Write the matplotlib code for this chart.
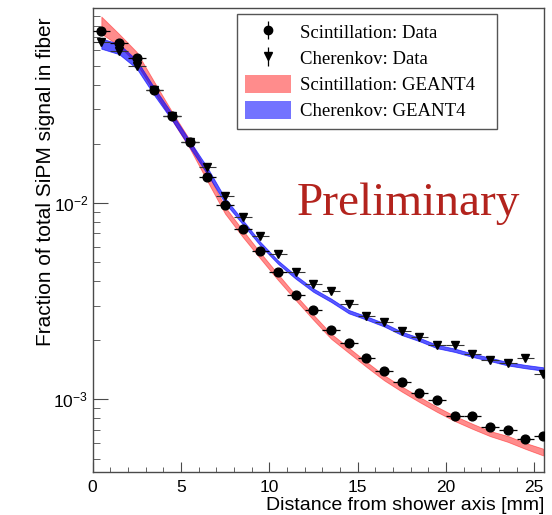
import numpy as np
import matplotlib
matplotlib.use("Agg")
import matplotlib.pyplot as plt
from matplotlib.patches import Patch
from matplotlib.ticker import MultipleLocator, LogLocator, NullFormatter

plt.rcParams["font.family"] = ["Liberation Sans", "DejaVu Sans"]
plt.rcParams["mathtext.fontset"] = "custom"
plt.rcParams["mathtext.rm"] = "Liberation Sans"
plt.rcParams["mathtext.it"] = "Liberation Sans:italic"
plt.rcParams["mathtext.bf"] = "Liberation Sans:bold"

# ------------------------------------------------------------
# Data
# ------------------------------------------------------------
DISTANCE = [0.5, 1.5, 2.5, 3.5, 4.5, 5.5, 6.5, 7.5, 8.5, 9.5, 10.5, 11.5, 12.5,
            13.5, 14.5, 15.5, 16.5, 17.5, 18.5, 19.5, 20.5, 21.5, 22.5, 23.5,
            24.5, 25.5]

SCINT_DATA = [0.0748, 0.0653, 0.0547, 0.0377, 0.0279, 0.0205, 0.0135, 0.0098,
              0.00734, 0.00571, 0.00446, 0.00342, 0.00287, 0.00227, 0.00193,
              0.00162, 0.00140, 0.00123, 0.00108, 0.00099, 0.00082, 0.00082,
              0.00072, 0.00070, 0.00063, 0.00065]

CHER_DATA = [0.066, 0.0592, 0.050, 0.0377, 0.0279, 0.0205, 0.0153, 0.0109,
             0.0085, 0.0068, 0.0055, 0.00444, 0.00387, 0.00358, 0.00305,
             0.00267, 0.00248, 0.00223, 0.00207, 0.00189, 0.00189, 0.00170,
             0.00159, 0.00154, 0.00162, 0.00134]

SCINT_G4 = [0.081, 0.068, 0.055, 0.039, 0.0278, 0.0200, 0.0136, 0.0092,
            0.0070, 0.0054, 0.0042, 0.0033, 0.00262, 0.00210, 0.00178,
            0.00151, 0.00129, 0.00113, 0.00100, 0.00089, 0.00080, 0.00073,
            0.00067, 0.00063, 0.00058, 0.00054]
SCINT_G4_REL = [0.10, 0.07, 0.07, 0.06, 0.05, 0.05, 0.05, 0.04, 0.04, 0.035,
                0.035, 0.03, 0.03, 0.03, 0.03, 0.03, 0.03, 0.03, 0.03, 0.03,
                0.03, 0.03, 0.03, 0.035, 0.035, 0.04]

CHER_G4 = [0.065, 0.061, 0.051, 0.037, 0.0275, 0.0200, 0.0146, 0.0103,
           0.0080, 0.0062, 0.0050, 0.0042, 0.0036, 0.0032, 0.0028, 0.0026,
           0.0024, 0.00217, 0.00202, 0.00186, 0.00178, 0.00168, 0.00160,
           0.00152, 0.00147, 0.00143]
CHER_G4_REL = [0.06, 0.06, 0.05, 0.045, 0.04, 0.04, 0.04, 0.03, 0.025, 0.022,
               0.02, 0.02, 0.02, 0.02, 0.02, 0.02, 0.02, 0.02, 0.02, 0.02,
               0.02, 0.02, 0.02, 0.02, 0.02, 0.02]

RED_BAND = (1.0, 0.0, 0.0, 0.45)
BLUE_BAND = (0.0, 0.0, 1.0, 0.55)
BLUE_FILL = (0.0, 0.0, 1.0, 0.65)
FRAME = "#4a4a4a"

# ------------------------------------------------------------
# Figure
# ------------------------------------------------------------
fig = plt.figure(figsize=(5.52, 5.15), dpi=100)
ax = fig.add_axes([92.5 / 552, 43 / 515, 451.5 / 552, 464 / 515])

x = np.array(DISTANCE)
s_g4 = np.array(SCINT_G4)
s_rel = np.array(SCINT_G4_REL)
c_g4 = np.array(CHER_G4)
c_rel = np.array(CHER_G4_REL)

ax.fill_between(x, s_g4 * (1 - s_rel), s_g4 * (1 + s_rel),
                facecolor=RED_BAND, edgecolor=RED_BAND, linewidth=0.6, zorder=2)
ax.fill_between(x, c_g4 * (1 - c_rel), c_g4 * (1 + c_rel),
                facecolor=BLUE_FILL, edgecolor=BLUE_FILL, linewidth=0.6, zorder=3)

ax.errorbar(x, SCINT_DATA, xerr=0.5, fmt="o", color="black", ms=6.3,
            elinewidth=0.9, capsize=0, zorder=5)
ax.errorbar(x, CHER_DATA, xerr=0.5, fmt="v", color="black", ms=6.3,
            elinewidth=0.8, ecolor="#333333", capsize=0, zorder=5)

ax.set_yscale("log")
ax.set_xlim(0, 25.55)
ax.set_ylim(4.27e-4, 0.0985)

ax.xaxis.set_major_locator(MultipleLocator(5))
ax.xaxis.set_minor_locator(MultipleLocator(1))
ax.yaxis.set_major_locator(LogLocator(base=10))
ax.yaxis.set_minor_locator(LogLocator(base=10, subs=np.arange(2, 10)))
ax.yaxis.set_minor_formatter(NullFormatter())

ax.tick_params(axis="both", which="both", direction="in", color=FRAME,
               top=False, right=False, labelsize=12.5)
ax.tick_params(axis="x", which="major", length=7.2, pad=5.5)
ax.tick_params(axis="x", which="minor", length=3.6)
ax.tick_params(axis="y", which="major", length=10.5, pad=3)
ax.tick_params(axis="y", which="minor", length=5.2)
for sp in ax.spines.values():
    sp.set_color(FRAME)
    sp.set_linewidth(1.0)

# axis titles, ROOT style (aligned to the end of the axis)
fig.text(544 / 552, 1 - 505 / 515, "Distance from shower axis [mm]",
         ha="right", va="center", fontsize=14)
fig.text(45.5 / 552, 1 - 18 / 515, "Fraction of total SiPM signal in fiber",
         rotation=90, ha="center", va="top", fontsize=15)

ax.text(0.453, 0.554, "Preliminary", transform=ax.transAxes,
        family="Liberation Serif", fontsize=34, color="#b3231d",
        ha="left", va="baseline")

# legend
h1 = ax.errorbar([], [], yerr=[], fmt="o", color="black", ms=6,
                 elinewidth=0.9, capsize=0)
h2 = ax.errorbar([], [], yerr=[], fmt="v", color="black", ms=6,
                 elinewidth=0.9, capsize=0)
h3 = Patch(facecolor=RED_BAND, edgecolor="none")
h4 = Patch(facecolor=BLUE_BAND, edgecolor="none")
leg = ax.legend([h1, h2, h3, h4],
                ["Scintillation: Data", "Cherenkov: Data",
                 "Scintillation: GEANT4", "Cherenkov: GEANT4"],
                loc="upper left", bbox_to_anchor=(0.32, 0.748, 0.576, 0.239),
                mode="expand", borderaxespad=0, fancybox=False, framealpha=1,
                edgecolor="#555555",
                prop={"family": "Liberation Serif", "size": 13.5},
                handlelength=2.45, handleheight=1.06, handletextpad=0.48,
                labelspacing=0.38, borderpad=0.45)
leg.get_frame().set_linewidth(1.0)

fig.savefig("out.png", dpi=100)
